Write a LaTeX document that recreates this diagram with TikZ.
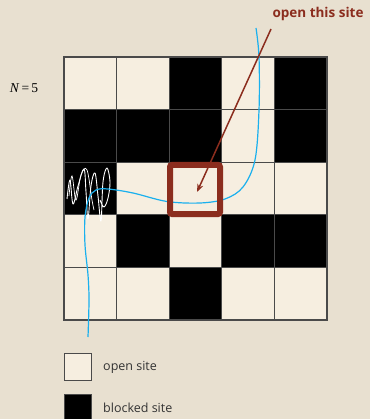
\documentclass[tikz,border=0pt]{standalone}
\usepackage{fontspec}
\setmainfont{Open Sans}
\newfontfamily\serifn{Liberation Serif}
\usetikzlibrary{arrows.meta}
\definecolor{bg}{HTML}{E8E0D0}
\definecolor{opencol}{HTML}{F6EEE0}
\definecolor{sitered}{HTML}{8B2D1E}
\definecolor{flow}{HTML}{1AB0EE}
\definecolor{gridline}{HTML}{4A4A4A}
\definecolor{labeltext}{HTML}{333333}
\begin{document}
\begin{tikzpicture}[x=1pt,y=-1pt,
  cellbox/.style={draw=gridline,line width=1pt},
  legbox/.style={draw=gridline,line width=1pt,minimum size=27pt,inner sep=0pt},
  legtext/.style={anchor=west,text=labeltext,font=\fontsize{12.5}{14}\selectfont,inner sep=0pt}]
\fill[bg] (0,0) rectangle (370,419);
\useasboundingbox (0,0) rectangle (370,419);
% grid cells: row / col / fill
\foreach \r/\c/\f in {
 1/1/opencol,1/2/opencol,1/3/black,1/4/opencol,1/5/black,
 2/1/black,2/2/black,2/3/black,2/4/opencol,2/5/black,
 3/1/black,3/2/opencol,3/3/opencol,3/4/opencol,3/5/opencol,
 4/1/opencol,4/2/black,4/3/opencol,4/4/black,4/5/black,
 5/1/opencol,5/2/opencol,5/3/black,5/4/opencol,5/5/opencol}{
  \path[cellbox,fill=\f] ({64+(\c-1)*52.6},{57+(\r-1)*52.6}) rectangle ++(52.6,52.6);
}
\draw[gridline,line width=1.3pt] (64,57) rectangle (327,320);
% scribble
\draw[white,line width=0.9pt,line join=round] plot[smooth,tension=0.6] coordinates {
 (67,199) (70,180) (73,204) (78,186) (84,169) (86,192) (88,219) (91,186)
 (95,173) (98,196) (101,221) (103,182) (107,168) (110,182) (108,198) (104,207) (100,200)};
\draw[white,line width=0.7pt] plot[smooth,tension=0.6] coordinates {
 (69,196) (72,176) (76,200) (81,175) (87,170) (92,200) (94,210)};
% percolation path
\draw[flow,line width=1.2pt] plot[smooth,tension=0.55] coordinates {
 (256,28) (259,57) (259,110) (255,160) (243,187) (225,199) (200,203)
 (167,201.5) (133,193) (108,189) (96,190) (89,198) (85,217) (85,245) (88,275) (89,300) (88,337)};
% highlighted site
\node[draw=sitered,line width=6pt,rounded corners=2pt,minimum width=50pt,minimum height=49pt,inner sep=0pt] (hl) at (195,189.5) {};
% label and arrow
\node[text=sitered,font=\bfseries\fontsize{13.5}{15}\selectfont,inner sep=0pt] (lab) at (318,14) {open this site};
\coordinate (arrstart) at (271,29);
\coordinate (arrend) at (197,192);
\draw[sitered,line width=1.5pt,-{Stealth[length=8pt,width=6pt]}] (arrstart) -- (arrend);
% N = 5
\node[font=\serifn\fontsize{13.5}{15}\selectfont,inner sep=0pt] (nlab) at (24,88) {\textit{N}\,=\,5};
% legend
\node[legbox,fill=opencol] (lopen) at (78,367) {};
\node[legtext] (topen) at (103,367) {open site};
\node[legbox,fill=black] (lblock) at (78,407.5) {};
\node[legtext] (tblock) at (103,407.5) {blocked site};
\end{tikzpicture}
\end{document}
